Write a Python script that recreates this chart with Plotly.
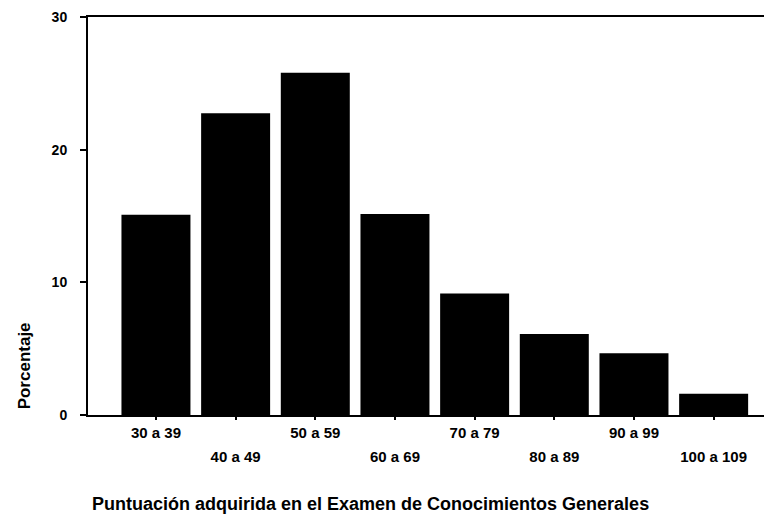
import plotly.graph_objects as go

categories = ["30 a 39", "40 a 49", "50 a 59", "60 a 69", "70 a 79", "80 a 89", "90 a 99", "100 a 109"]
porcentaje = [15.1, 22.75, 25.8, 15.15, 9.15, 6.1, 4.65, 1.6]
y_ticks = [0, 10, 20, 30]

xs = list(range(len(categories)))
odd_x = [i for i in xs if i % 2 == 1]

FONT = "Liberation Sans, Arial, sans-serif"
TICKF = dict(size=15, family=FONT, color="black")

fig = go.Figure(go.Bar(x=xs, y=porcentaje, marker=dict(color="black", line=dict(width=0)),
                       width=0.866, xaxis="x", yaxis="y"))
# invisible trace to activate second x axis (odd labels on a lower row)
fig.add_trace(go.Scatter(x=[odd_x[0]], y=[0], xaxis="x2", yaxis="y", mode="markers",
                         marker=dict(opacity=0), hoverinfo="skip", showlegend=False))

XR = [-0.853, 7.72]
# The page body has an 8px margin, so the figure is drawn 8px smaller than the window
W, H = 764, 512
OFF = 8
ML, MR, MT, MB = 88 - OFF, 1, 14 - OFF, 105

fig.update_layout(
    width=W, height=H,
    margin=dict(l=ML, r=MR, t=MT, b=MB),
    paper_bgcolor="white", plot_bgcolor="white",
    showlegend=False,
    font=dict(family=FONT, color="black", size=12),
    xaxis=dict(range=XR, tickmode="array", tickvals=xs,
               ticktext=[("<b>%s</b>" % c) if i % 2 == 0 else "" for i, c in enumerate(categories)],
               showline=True, linecolor="black", linewidth=2, mirror=True,
               ticks="outside", ticklen=3, tickwidth=2, tickcolor="black",
               ticklabelstandoff=0,
               showgrid=False, zeroline=False, tickfont=TICKF),
    xaxis2=dict(range=XR, overlaying="x", anchor="y", side="bottom",
                tickmode="array", tickvals=odd_x,
                ticktext=["<b>%s</b>" % categories[i] for i in odd_x],
                showline=False, ticks="", ticklabelstandoff=31,
                showgrid=False, zeroline=False, tickfont=TICKF),
    yaxis=dict(range=[0, 30], tickmode="array", tickvals=y_ticks,
               ticktext=["<b>%d</b>" % v for v in y_ticks],
               showline=True, linecolor="black", linewidth=2,
               ticks="outside", ticklen=6, tickwidth=2, tickcolor="black",
               ticklabelstandoff=10, ticklabeloverflow="allow",
               showgrid=False, zeroline=False, tickfont=dict(size=14, family=FONT, color="black")),
)

plot_w = W - ML - MR
plot_h = H - MT - MB
def px_to_paper(px, py):
    return (px - OFF - ML) / plot_w, (H - MB - (py - OFF)) / plot_h

ax, ay = px_to_paper(24, 366)
bx, by = px_to_paper(370, 505)
fig.add_annotation(text="<b>Porcentaje</b>", textangle=-90, x=ax, y=ay, xref="paper", yref="paper",
                   xanchor="center", yanchor="middle",
                   showarrow=False, font=dict(size=17, family=FONT, color="black"))
fig.add_annotation(text="<b>Puntuación adquirida en el Examen de Conocimientos Generales</b>",
                   x=bx, y=by, xref="paper", yref="paper", showarrow=False,
                   xanchor="center", yanchor="middle",
                   font=dict(size=18, family=FONT, color="black"))

fig.write_html("out.html")
